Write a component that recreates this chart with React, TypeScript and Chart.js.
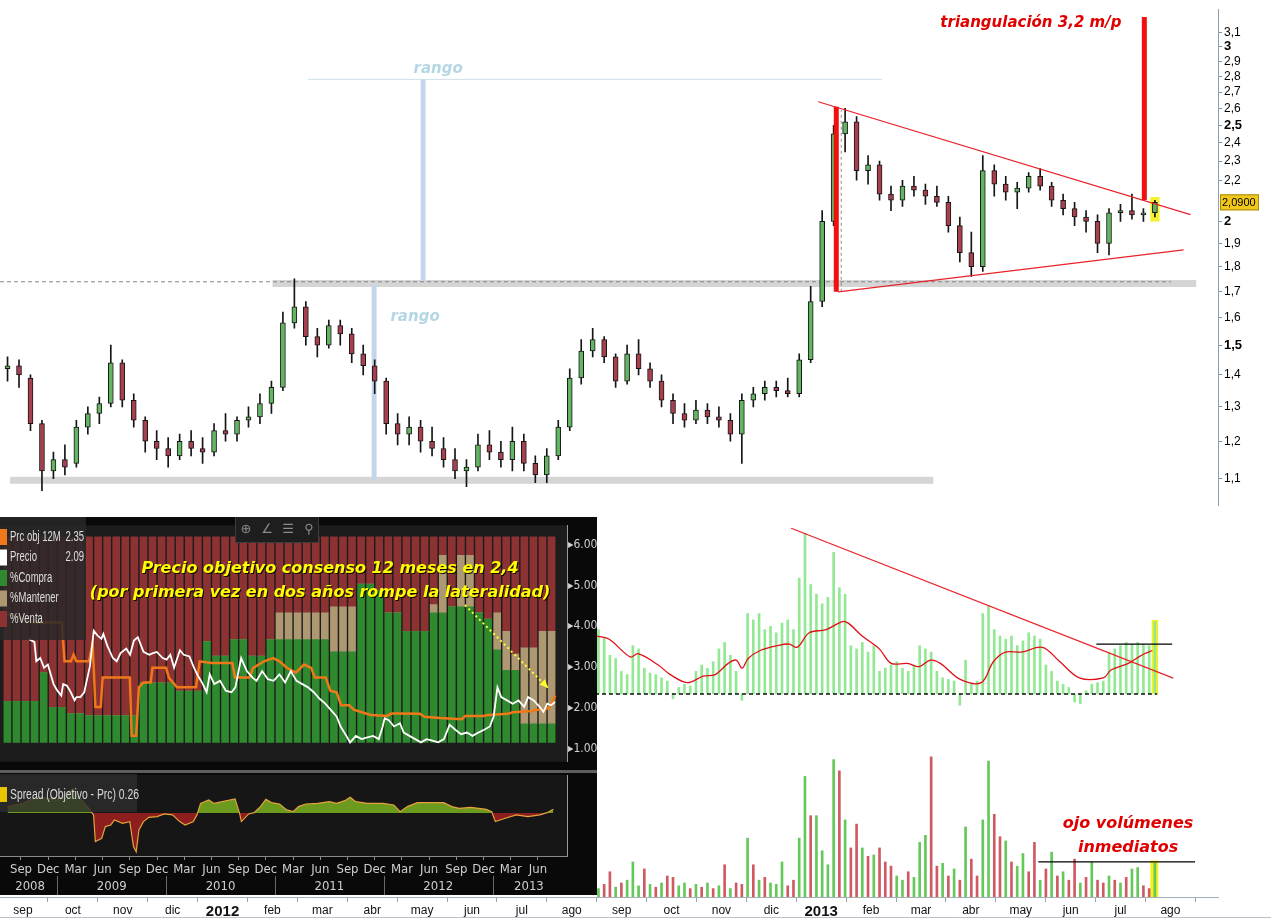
import React, { useEffect, useRef } from 'react';
import { Chart, registerables } from 'chart.js';

Chart.register(...registerables);

const F = '"Liberation Sans", Arial, sans-serif';
const NARROW = '"Liberation Sans Narrow", "DejaVu Sans Condensed", "Liberation Sans", sans-serif';
const DJ = '"DejaVu Sans", Verdana, sans-serif';
Chart.defaults.font.family = F;

/* ---------- shared time axis: weeks counted from 1 Aug 2011 ---------- */
const WEEKS_PER_MONTH = 4.348;
const MONTH_LABELS = ['sep', 'oct', 'nov', 'dic', '2012', 'feb', 'mar', 'abr', 'may', 'jun', 'jul', 'ago',
  'sep', 'oct', 'nov', 'dic', '2013', 'feb', 'mar', 'abr', 'may', 'jun', 'jul', 'ago'];
const X_MIN = 2.343;
const X_MAX = 108.5;

/* ---------- weekly candles ---------- */
const FIRST_WEEK = 3;
const P_OPEN = [
  1.42, 1.43, 1.39, 1.25, 1.12, 1.15, 1.14, 1.24, 1.28, 1.31,
  1.44, 1.32, 1.26, 1.20, 1.18, 1.16, 1.20, 1.18, 1.17, 1.23,
  1.22, 1.26, 1.27, 1.31, 1.36, 1.58, 1.64, 1.53, 1.50, 1.57,
  1.54, 1.47, 1.43, 1.38, 1.25, 1.22, 1.24, 1.20, 1.18, 1.15,
  1.12, 1.13, 1.19, 1.17, 1.15, 1.20, 1.14, 1.11, 1.16, 1.24,
  1.39, 1.48, 1.52, 1.46, 1.38, 1.47, 1.42, 1.38, 1.32, 1.28,
  1.26, 1.29, 1.27, 1.26, 1.22, 1.32, 1.34, 1.36, 1.35, 1.34,
  1.45, 1.66, 2.00, 2.45, 2.52, 2.25, 2.28, 2.13, 2.10, 2.17,
  2.15, 2.12, 2.09, 1.98, 1.86, 1.80, 2.25, 2.18, 2.14, 2.16,
  2.22, 2.17, 2.10, 2.06, 2.02, 2.00, 1.90, 2.04, 2.05, 2.03, 2.04];
const P_HIGH = [
  1.46, 1.45, 1.40, 1.26, 1.17, 1.19, 1.26, 1.30, 1.33, 1.50,
  1.45, 1.34, 1.27, 1.23, 1.21, 1.22, 1.23, 1.21, 1.25, 1.28,
  1.27, 1.30, 1.34, 1.38, 1.62, 1.75, 1.66, 1.56, 1.59, 1.59,
  1.56, 1.50, 1.45, 1.39, 1.28, 1.27, 1.26, 1.24, 1.21, 1.18,
  1.15, 1.22, 1.23, 1.20, 1.24, 1.22, 1.16, 1.18, 1.26, 1.42,
  1.52, 1.56, 1.53, 1.47, 1.50, 1.52, 1.44, 1.40, 1.34, 1.31,
  1.32, 1.31, 1.30, 1.28, 1.34, 1.36, 1.38, 1.38, 1.39, 1.47,
  1.72, 2.05, 2.50, 2.60, 2.55, 2.33, 2.30, 2.17, 2.20, 2.22,
  2.18, 2.17, 2.12, 2.02, 1.95, 2.33, 2.28, 2.22, 2.19, 2.24,
  2.26, 2.19, 2.13, 2.09, 2.05, 2.03, 2.06, 2.08, 2.13, 2.06, 2.10];
const P_LOW = [
  1.38, 1.36, 1.23, 1.07, 1.10, 1.11, 1.13, 1.22, 1.25, 1.30,
  1.30, 1.24, 1.17, 1.15, 1.13, 1.15, 1.16, 1.14, 1.16, 1.20,
  1.20, 1.24, 1.25, 1.28, 1.35, 1.56, 1.50, 1.46, 1.49, 1.50,
  1.44, 1.40, 1.34, 1.22, 1.19, 1.19, 1.17, 1.16, 1.13, 1.10,
  1.08, 1.12, 1.15, 1.13, 1.12, 1.12, 1.09, 1.09, 1.15, 1.23,
  1.37, 1.46, 1.44, 1.36, 1.37, 1.40, 1.36, 1.30, 1.25, 1.24,
  1.25, 1.25, 1.24, 1.20, 1.14, 1.30, 1.32, 1.33, 1.33, 1.33,
  1.44, 1.64, 1.98, 2.35, 2.20, 2.18, 2.10, 2.05, 2.07, 2.12,
  2.08, 2.07, 1.95, 1.82, 1.76, 1.78, 2.12, 2.10, 2.06, 2.14,
  2.15, 2.07, 2.03, 1.98, 1.95, 1.86, 1.85, 2.00, 2.01, 2.00, 2.02];
const P_CLOSE = [
  1.43, 1.40, 1.25, 1.12, 1.15, 1.13, 1.24, 1.28, 1.31, 1.44,
  1.32, 1.26, 1.20, 1.18, 1.16, 1.20, 1.18, 1.17, 1.23, 1.22,
  1.26, 1.27, 1.31, 1.36, 1.58, 1.64, 1.53, 1.50, 1.57, 1.54,
  1.47, 1.43, 1.38, 1.25, 1.22, 1.24, 1.20, 1.18, 1.15, 1.12,
  1.13, 1.19, 1.17, 1.15, 1.20, 1.14, 1.11, 1.16, 1.24, 1.39,
  1.48, 1.52, 1.46, 1.38, 1.47, 1.42, 1.38, 1.32, 1.28, 1.26,
  1.29, 1.27, 1.26, 1.22, 1.32, 1.34, 1.36, 1.35, 1.34, 1.45,
  1.66, 2.00, 2.45, 2.52, 2.25, 2.28, 2.13, 2.10, 2.17, 2.15,
  2.12, 2.09, 1.98, 1.86, 1.80, 2.25, 2.18, 2.14, 2.16, 2.22,
  2.17, 2.10, 2.06, 2.02, 2.00, 1.90, 2.04, 2.05, 2.03, 2.04, 2.09];

const PRICE_TICKS = [1.1, 1.2, 1.3, 1.4, 1.5, 1.6, 1.7, 1.8, 1.9, 2, 2.2, 2.3, 2.4, 2.5, 2.6, 2.7, 2.8, 2.9, 3, 3.1];
const PRICE_BOLD = [1.5, 2, 2.5, 3];
const LAST_PRICE = 2.09;

/* price-chart drawings, in (week, price) units */
const SUPPORT_BANDS = [{ w0: 26.1, w1: 106.6, v: 1.731 }, { w0: 3.22, w1: 83.7, v: 1.096 }];
const RES_DASH = { w0: 2.343, w1: 104.4, v: 1.738 };
const RANGE_VLINES = [{ w: 34.95, v0: 1.097, v1: 1.725 }, { w: 39.22, v0: 1.741, v1: 2.781 }];
const RANGE_HLINE = { w0: 29.2, w1: 79.2, v: 2.781 };
const RANGE_LABELS = [{ w: 40.53, v: 2.851 }, { w: 38.52, v: 1.601 }];
const TRI_UPPER = [[73.66, 2.64], [106.1, 2.031]];
const TRI_LOWER = [[75.4, 1.698], [105.5, 1.872]];
const TRI_HEIGHT = { w: 75.23, v0: 1.698, v1: 2.61 };
const TRI_TARGET = { w: 102.08, v0: 2.101, v1: 3.214 };
const TRI_DASH = { w: 75.66, v0: 1.698, v1: 2.59 };
const LAST_HL = { w0: 102.6, w1: 103.4, v0: 1.999, v1: 2.116 };
const TRI_LABEL = { w: 84.3, v: 3.17 };

/* ---------- volume oscillator (semi-weekly) ---------- */
const OSC_FIRST_WEEK = 54.5;
const OSC_STEP = 0.5;
const OSC_VALUES = [
  40, 35, 24, 22, 14, 12, 30, 28, 16, 13,
  12, 10, 8, -3, 4, 6, 5, 14, 18, 16,
  20, 28, 32, 24, 14, -4, 50, 46, 50, 40,
  42, 38, 44, 46, 40, 72, 100, 68, 62, 56,
  60, 88, 66, 62, 30, 28, 32, 26, 30, 14,
  16, 18, 20, 16, 14, 18, 30, 28, 26, 14,
  10, 9, 8, -7, 21, 6, 8, 50, 55, 40,
  36, 34, 36, 30, 33, 38, 36, 34, 18, 14,
  8, 6, 4, -5, -6, 2, 6, 7, 8, 26,
  28, 30, 32, 31, 32, 31, 30, 45];
const MA_WEEKS = [54.39, 55.44, 57.27, 57.96, 59.71, 60.76, 62.24, 63.63, 64.68, 65.81,
  66.51, 67.03, 67.55, 68.6, 70.08, 71.13, 71.83, 72.87, 74.35, 75.75,
  76.27, 77.49, 78.98, 80.02, 81.42, 82.47, 83.43, 84.3, 86.04, 87.87,
  88.92, 89.96, 91.36, 93.19, 94.58, 96.41, 98.51, 99.2, 100.69, 101.38,
  102.08, 102.78];
const MA_VALUES = [36, 34, 23, 25, 18, 12, 7, 11, 12, 19,
  21, 16, 22, 27, 30, 31, 29, 38, 40, 45,
  44, 36, 28, 19, 19, 17, 21, 19, 9, 7,
  20, 26, 26, 29, 21, 10, 10, 15, 19, 22,
  25, 27];
const OSC_TREND = [[71.3, 103], [104.6, 9.8]];
const OSC_LEVEL = { w0: 97.9, w1: 104.5, v: 31 };
const OSC_HL = { w0: 102.72, w1: 103.28, v0: 0, v1: 46 };

/* ---------- volume (semi-weekly) ---------- */
const VOL_VALUES = [
  6, 9, 18, 7, 10, 12, 25, 8, 20, 9,
  7, 10, 15, 14, 8, 10, 6, 9, 7, 10,
  6, 8, 23, 6, 10, 9, 42, 23, 12, 14,
  10, 9, 25, 8, 12, 42, 86, 58, 58, 33,
  23, 98, 90, 55, 35, 52, 35, 29, 30, 35,
  25, 22, 15, 12, 18, 14, 39, 44, 100, 22,
  24, 15, 20, 12, 50, 27, 15, 55, 97, 59,
  43, 40, 25, 22, 31, 18, 39, 12, 20, 32,
  15, 18, 12, 27, 10, 14, 25, 12, 10, 15,
  12, 10, 14, 20, 21, 8, 6, 24];
const VOL_DIR = [
  'g', 'r', 'r', 'g', 'r', 'g', 'g', 'g', 'r', 'g',
  'r', 'g', 'r', 'r', 'g', 'g', 'r', 'g', 'r', 'g',
  'r', 'g', 'r', 'g', 'r', 'r', 'g', 'r', 'g', 'r',
  'g', 'g', 'g', 'r', 'r', 'g', 'g', 'r', 'g', 'g',
  'g', 'g', 'r', 'g', 'r', 'r', 'g', 'r', 'g', 'r',
  'r', 'r', 'g', 'g', 'r', 'g', 'g', 'g', 'r', 'r',
  'g', 'r', 'g', 'r', 'g', 'r', 'r', 'g', 'g', 'r',
  'r', 'g', 'r', 'g', 'g', 'r', 'r', 'g', 'r', 'g',
  'r', 'g', 'r', 'r', 'g', 'r', 'g', 'r', 'r', 'g',
  'r', 'g', 'r', 'g', 'g', 'r', 'r', 'g'];
const VOL_LEVEL = { w0: 92.84, w1: 106.5, v: 25 };
const VOL_HL = { w0: 102.6, w1: 103.3, v0: 0, v1: 26 };
const VOL_TEXT = { w: 100.66, v1: 52, v2: 35 };

/* ---------- Bloomberg panel: months counted from Jul 2008 ---------- */
const BB_MIN = -0.315;
const BB_MAX = 62.2;
const COMPRA = [20, 20, 20, 20, 34, 17, 17, 14, 14, 13,
  13, 13, 13, 13, 13, 29, 29, 29, 29, 25,
  25, 25, 49, 42, 42, 50, 50, 42, 42, 50,
  50, 50, 50, 50, 50, 50, 44, 44, 44, 77,
  77, 74, 63, 63, 54, 54, 54, 63, 63, 66,
  66, 66, 63, 60, 45, 35, 35, 9, 9, 9,
  9];
const MANTENER = [0, 0, 0, 0, 0, 0, 0, 0, 0, 0,
  0, 0, 0, 0, 0, 0, 0, 0, 0, 0,
  0, 0, 0, 0, 0, 0, 0, 0, 0, 0,
  13, 13, 13, 13, 13, 13, 22, 22, 22, 0,
  0, 0, 0, 0, 0, 0, 0, 4, 28, 0,
  25, 25, 0, 0, 18, 19, 8, 37, 37, 45,
  45];
const TGT_M = [0.5, 3.5, 6.5, 6.8, 7.5, 7.8, 8.1, 9.5, 9.9, 10.2,
  10.8, 11.0, 14.0, 14.2, 14.7, 15.0, 15.5, 16.3, 16.5, 18.0,
  18.3, 19.2, 21.3, 21.7, 23.0, 25.3, 25.6, 27.2, 27.6, 28.8,
  29.8, 30.5, 31.3, 32.3, 33.2, 34.0, 34.4, 35.6, 36.1, 36.8,
  37.3, 38.2, 38.7, 40.0, 40.6, 42.4, 42.8, 43.5, 46.0, 46.5,
  48.2, 50.6, 51.0, 53.0, 53.5, 55.7, 56.2, 58.4, 58.7, 59.8,
  60.4, 60.9];
const TGT_V = [4.30, 4.09, 4.09, 3.14, 3.14, 3.30, 3.14, 3.14, 3.60, 2.02,
  2.02, 2.74, 2.74, 1.31, 1.31, 2.50, 2.62, 2.62, 2.98, 2.98,
  2.74, 2.50, 2.50, 3.14, 3.10, 3.10, 2.74, 2.74, 2.98, 3.14,
  3.22, 3.14, 2.98, 2.86, 3.06, 2.98, 2.74, 2.74, 2.42, 2.38,
  2.06, 2.06, 1.95, 1.86, 1.82, 1.80, 1.86, 1.86, 1.85, 1.78,
  1.75, 1.72, 1.80, 1.80, 1.82, 1.85, 1.89, 1.92, 1.95, 1.95,
  2.05, 2.30];
const PRC_M = [2.85, 3.48, 3.69, 4.12, 4.54, 4.96, 5.59, 6.01, 6.44, 6.65,
  7.07, 7.49, 7.91, 8.12, 8.55, 8.97, 9.60, 10.02, 10.44, 10.87,
  11.08, 11.50, 12.13, 12.55, 12.98, 13.61, 14.03, 14.45, 14.88, 15.51,
  16.14, 16.56, 16.98, 17.62, 18.04, 18.46, 18.88, 19.52, 19.94, 20.57,
  21.00, 21.42, 22.05, 22.47, 22.81, 23.31, 23.95, 24.58, 25.21, 25.64,
  26.27, 26.90, 27.53, 27.96, 28.59, 29.22, 29.85, 30.49, 31.12, 31.75,
  32.38, 33.02, 33.65, 34.28, 34.92, 35.55, 36.18, 36.81, 37.24, 37.87,
  38.29, 38.92, 39.56, 40.19, 40.82, 41.45, 41.88, 42.09, 42.51, 43.14,
  43.78, 44.20, 44.83, 45.46, 46.10, 46.73, 47.36, 47.99, 48.63, 49.26,
  49.89, 50.52, 51.16, 51.79, 52.42, 53.06, 53.69, 54.11, 54.53, 54.95,
  55.59, 56.22, 56.85, 57.48, 57.91, 58.54, 59.18, 59.60, 60.02, 60.44,
  60.87];
const PRC_V = [3.69, 3.61, 3.14, 3.22, 2.98, 3.06, 2.58, 2.42, 2.30, 2.58,
  2.54, 2.38, 2.18, 2.26, 2.26, 2.38, 3.02, 3.89, 3.77, 3.69,
  3.81, 3.53, 3.22, 3.14, 3.34, 3.45, 3.30, 3.65, 3.73, 3.37,
  3.30, 3.34, 3.37, 3.22, 3.18, 3.30, 2.98, 3.41, 3.30, 3.26,
  3.02, 2.82, 2.58, 2.38, 2.82, 2.58, 2.66, 2.42, 2.38, 2.50,
  3.22, 2.90, 2.74, 2.66, 2.90, 2.70, 2.66, 2.82, 2.62, 2.90,
  2.66, 2.58, 2.50, 2.38, 2.22, 2.10, 1.94, 1.78, 1.54, 1.31,
  1.15, 1.31, 1.23, 1.27, 1.31, 1.23, 1.54, 1.74, 1.70, 1.54,
  1.62, 1.39, 1.31, 1.23, 1.15, 1.23, 1.19, 1.15, 1.23, 1.58,
  1.46, 1.35, 1.39, 1.31, 1.39, 1.46, 1.54, 1.78, 2.50, 2.26,
  2.18, 2.10, 2.18, 2.02, 2.26, 2.18, 2.02, 1.90, 2.10, 2.06,
  2.14];
const SPR_M = [0.5, 2.2, 3.9, 6.0, 7.7, 9.6, 10.0, 10.2, 10.9, 11.3,
  11.9, 12.3, 13.2, 14.0, 14.4, 14.7, 15.0, 15.5, 16.1, 17.0,
  17.8, 18.7, 19.5, 20.1, 21.0, 21.4, 21.8, 22.7, 23.3, 24.2,
  25.0, 25.6, 26.1, 26.3, 27.1, 27.7, 28.4, 29.0, 29.6, 30.5,
  31.3, 32.0, 32.6, 33.4, 34.7, 36.0, 36.8, 37.7, 38.3, 38.9,
  40.2, 41.9, 43.1, 43.8, 44.6, 45.7, 47.4, 48.6, 49.5, 50.3,
  51.6, 53.3, 53.9, 54.3, 55.4, 56.6, 57.9, 59.2, 60.0, 60.7];
const SPR_V = [0.39, 0.60, 1.02, 0.81, 1.50, 0.19, -0.12, -1.79, -1.58, -0.85,
  -0.75, -0.44, -0.65, -0.54, -2.10, -2.42, -1.06, -0.54, -0.27, -0.23,
  -0.06, -0.12, -0.54, -0.75, -0.54, -0.12, 0.60, 0.81, 0.60, 0.71,
  0.81, 0.88, -0.02, -0.54, -0.06, 0.02, 0.40, 0.85, 0.65, 0.56,
  0.19, 0.08, 0.40, 0.56, 0.60, 0.71, 0.60, 0.77, 0.98, 0.71,
  0.60, 0.60, 0.50, 0.08, 0.40, 0.65, 0.65, 0.65, 0.40, 0.29,
  0.35, 0.23, 0.08, -0.54, -0.33, -0.12, -0.23, -0.12, 0.02, 0.23];
const BB_PRICE_TICKS = [1, 2, 3, 4, 5, 6];
const BB_QTR_TICKS = [2, 5, 8, 11, 14, 17, 20, 23, 26, 29, 32, 35, 38, 41, 44, 47, 50, 53, 56, 59];
const BB_QTR_LABELS = ['Sep', 'Dec', 'Mar', 'Jun'];
const BB_YEARS = ['2008', '2009', '2010', '2011', '2012', '2013'];
const BB_YEAR_CENTERS = [3, 12, 24, 36, 48, 58];
const BB_YEAR_STARTS = [6, 18, 30, 42, 54];
const BB_LEGEND = [
  { color: '#f07818', label: 'Prc obj 12M', value: '2.35' },
  { color: '#ffffff', label: 'Precio', value: '2.09' },
  { color: '#2f8a2f', label: '%Compra', value: '' },
  { color: '#ae9872', label: '%Mantener', value: '' },
  { color: '#8c3232', label: '%Venta', value: '' }];
const BB_NOTE = [
  { text: 'Precio objetivo consenso 12 meses en 2,4', m: 36.07, v: 5.40 },
  { text: '(por primera vez en dos años rompe la lateralidad)', m: 34.97, v: 4.83 }];
const BB_ARROW = [[50.95, 4.52], [60.1, 2.49]];

/* ---------- helpers ---------- */
function seg(ctx: any, x0: number, y0: number, x1: number, y1: number) {
  ctx.beginPath();
  ctx.moveTo(x0, y0);
  ctx.lineTo(x1, y1);
  ctx.stroke();
}
function narrowText(ctx: any, text: string, x: number, y: number, align: string, sx: number) {
  ctx.save();
  ctx.translate(x, y);
  ctx.scale(sx, 1);
  ctx.textAlign = align;
  ctx.fillText(text, 0, 0);
  ctx.restore();
}
const BASE_OPTS = {
  animation: false,
  responsive: false,
  events: [],
  plugins: { legend: { display: false }, tooltip: { enabled: false } },
};

/* ---------- price chart ---------- */
const pricePlugin = {
  id: 'priceAnno',
  beforeDatasetsDraw(chart: any) {
    const { ctx } = chart;
    const X = (w: number) => chart.scales.x.getPixelForValue(w);
    const Y = (v: number) => chart.scales.y.getPixelForValue(v);
    ctx.save();
    ctx.fillStyle = '#d5d5d5';
    SUPPORT_BANDS.forEach((b) => ctx.fillRect(X(b.w0), Y(b.v) - 3.5, X(b.w1) - X(b.w0), 7));
    ctx.strokeStyle = '#858585';
    ctx.lineWidth = 1;
    ctx.setLineDash([4, 3]);
    seg(ctx, X(RES_DASH.w0), Y(RES_DASH.v), X(RES_DASH.w1), Y(RES_DASH.v));
    ctx.setLineDash([]);
    ctx.strokeStyle = '#c5d6ec';
    ctx.lineWidth = 5;
    RANGE_VLINES.forEach((l) => seg(ctx, X(l.w), Y(l.v0), X(l.w), Y(l.v1)));
    ctx.strokeStyle = '#cde0ea';
    ctx.lineWidth = 1;
    seg(ctx, X(RANGE_HLINE.w0), Y(RANGE_HLINE.v), X(RANGE_HLINE.w1), Y(RANGE_HLINE.v));
    ctx.fillStyle = 'rgba(245,240,20,0.9)';
    ctx.fillRect(X(LAST_HL.w0), Y(LAST_HL.v1), X(LAST_HL.w1) - X(LAST_HL.w0), Y(LAST_HL.v0) - Y(LAST_HL.v1));
    ctx.restore();
  },
  afterDatasetsDraw(chart: any) {
    const { ctx } = chart;
    const X = (w: number) => chart.scales.x.getPixelForValue(w);
    const Y = (v: number) => chart.scales.y.getPixelForValue(v);
    ctx.save();
    ctx.strokeStyle = '#8c8c8c';
    ctx.lineWidth = 1;
    ctx.setLineDash([3, 3]);
    seg(ctx, X(TRI_DASH.w), Y(TRI_DASH.v0), X(TRI_DASH.w), Y(TRI_DASH.v1));
    ctx.setLineDash([]);
    ctx.strokeStyle = '#e8232a';
    ctx.lineWidth = 1.3;
    [TRI_UPPER, TRI_LOWER].forEach((l) => seg(ctx, X(l[0][0]), Y(l[0][1]), X(l[1][0]), Y(l[1][1])));
    ctx.strokeStyle = '#f01010';
    ctx.lineWidth = 5;
    [TRI_HEIGHT, TRI_TARGET].forEach((l) => seg(ctx, X(l.w), Y(l.v0), X(l.w), Y(l.v1)));
    ctx.font = 'bold italic 15px ' + DJ;
    ctx.fillStyle = '#b5d6e5';
    ctx.textAlign = 'center';
    ctx.textBaseline = 'middle';
    RANGE_LABELS.forEach((r) => ctx.fillText('rango', X(r.w), Y(r.v)));
    ctx.font = 'bold italic 15px ' + DJ;
    ctx.fillStyle = '#e00000';
    ctx.textAlign = 'left';
    ctx.fillText('triangulación 3,2 m/p', X(TRI_LABEL.w), Y(TRI_LABEL.v));
    ctx.restore();
  },
  afterDraw(chart: any) {
    const { ctx, chartArea } = chart;
    const y = chart.scales.y.getPixelForValue(LAST_PRICE);
    ctx.save();
    ctx.fillStyle = '#f2c81a';
    ctx.strokeStyle = '#a88a10';
    ctx.lineWidth = 1;
    ctx.fillRect(chartArea.right + 2, y - 8, 39, 16);
    ctx.strokeRect(chartArea.right + 2.5, y - 7.5, 38, 15);
    ctx.fillStyle = '#000';
    ctx.font = '11px ' + F;
    ctx.textAlign = 'left';
    ctx.textBaseline = 'middle';
    ctx.fillText(LAST_PRICE.toFixed(4).replace('.', ','), chartArea.right + 4, y + 0.5);
    ctx.restore();
  },
};

function priceConfig() {
  const xs = P_OPEN.map((_, i) => FIRST_WEEK + i);
  const up = P_CLOSE.map((c, i) => c >= P_OPEN[i]);
  return {
    type: 'bar',
    data: {
      datasets: [
        {
          data: xs.map((x, i) => ({ x, y: [P_LOW[i], P_HIGH[i]] })),
          backgroundColor: '#151515', barThickness: 1, maxBarThickness: 1, grouped: false, order: 2,
        },
        {
          data: xs.map((x, i) => ({ x, y: [P_OPEN[i], P_CLOSE[i]] })),
          backgroundColor: up.map((u) => (u ? '#63b463' : '#a6404f')),
          borderColor: '#151515', borderWidth: 1, borderSkipped: false,
          barThickness: 5, maxBarThickness: 5, grouped: false, order: 1,
        },
      ],
    },
    options: {
      ...BASE_OPTS,
      layout: { padding: { left: 0, right: 0, top: 0, bottom: 5 } },
      scales: {
        x: { type: 'linear', min: X_MIN, max: X_MAX, offset: false, bounds: 'data', display: false },
        y: {
          type: 'logarithmic', position: 'right', min: 1.033, max: 3.273, bounds: 'data',
          afterBuildTicks: (s: any) => { s.ticks = PRICE_TICKS.map((v) => ({ value: v })); },
          afterFit: (s: any) => { s.width = 53; },
          ticks: {
            autoSkip: false, color: '#000', padding: 2,
            callback: (v: any) => String(v).replace('.', ','),
            font: (c: any) => {
              const b = c.tick && PRICE_BOLD.includes(c.tick.value);
              return { family: F, size: b ? 13 : 12, weight: b ? 'bold' : 'normal' };
            },
          },
          grid: { drawOnChartArea: false, tickLength: 4, color: '#7f8f9c' },
          border: { color: '#8fa0ae' },
        },
      },
    },
    plugins: [pricePlugin],
  };
}

/* ---------- oscillator chart ---------- */
const oscPlugin = {
  id: 'oscAnno',
  beforeDatasetsDraw(chart: any) {
    const { ctx } = chart;
    const X = (w: number) => chart.scales.x.getPixelForValue(w);
    const Y = (v: number) => chart.scales.y.getPixelForValue(v);
    ctx.save();
    ctx.fillStyle = '#f5f020';
    ctx.fillRect(X(OSC_HL.w0), Y(OSC_HL.v1), X(OSC_HL.w1) - X(OSC_HL.w0), Y(OSC_HL.v0) - Y(OSC_HL.v1));
    ctx.restore();
  },
  afterDatasetsDraw(chart: any) {
    const { ctx } = chart;
    const X = (w: number) => chart.scales.x.getPixelForValue(w);
    const Y = (v: number) => chart.scales.y.getPixelForValue(v);
    ctx.save();
    ctx.strokeStyle = '#111';
    ctx.lineWidth = 1.5;
    ctx.setLineDash([4, 3]);
    seg(ctx, X(OSC_FIRST_WEEK - 0.3), Y(0), X(OSC_FIRST_WEEK + OSC_STEP * (OSC_VALUES.length - 1) + 0.2), Y(0));
    ctx.setLineDash([]);
    ctx.strokeStyle = '#e8232a';
    ctx.lineWidth = 1.3;
    seg(ctx, X(OSC_TREND[0][0]), Y(OSC_TREND[0][1]), X(OSC_TREND[1][0]), Y(OSC_TREND[1][1]));
    ctx.strokeStyle = '#000';
    ctx.lineWidth = 1.2;
    seg(ctx, X(OSC_LEVEL.w0), Y(OSC_LEVEL.v), X(OSC_LEVEL.w1), Y(OSC_LEVEL.v));
    ctx.restore();
  },
};

function oscConfig() {
  return {
    type: 'bar',
    data: {
      datasets: [
        {
          data: OSC_VALUES.map((v, i) => ({ x: OSC_FIRST_WEEK + OSC_STEP * i, y: v })),
          backgroundColor: '#93e993', barThickness: 2, maxBarThickness: 2, grouped: false, order: 2,
        },
        {
          type: 'line',
          data: MA_WEEKS.map((w, i) => ({ x: w, y: MA_VALUES[i] })),
          borderColor: '#e01018', borderWidth: 1.3, pointRadius: 0, tension: 0.35, order: 1,
        },
      ],
    },
    options: {
      ...BASE_OPTS,
      layout: { padding: { left: 0, right: 53, top: 2, bottom: 5 } },
      scales: {
        x: { type: 'linear', min: X_MIN, max: X_MAX, offset: false, bounds: 'data', display: false },
        y: { type: 'linear', min: -10, max: 110, bounds: 'data', display: false },
      },
    },
    plugins: [oscPlugin],
  };
}

/* ---------- volume chart ---------- */
const volPlugin = {
  id: 'volAnno',
  beforeDatasetsDraw(chart: any) {
    const { ctx } = chart;
    const X = (w: number) => chart.scales.x.getPixelForValue(w);
    const Y = (v: number) => chart.scales.y.getPixelForValue(v);
    ctx.save();
    ctx.fillStyle = '#f5f020';
    ctx.fillRect(X(VOL_HL.w0), Y(VOL_HL.v1), X(VOL_HL.w1) - X(VOL_HL.w0), Y(VOL_HL.v0) - Y(VOL_HL.v1));
    ctx.restore();
  },
  afterDatasetsDraw(chart: any) {
    const { ctx } = chart;
    const X = (w: number) => chart.scales.x.getPixelForValue(w);
    const Y = (v: number) => chart.scales.y.getPixelForValue(v);
    ctx.save();
    ctx.strokeStyle = '#000';
    ctx.lineWidth = 1.2;
    seg(ctx, X(VOL_LEVEL.w0), Y(VOL_LEVEL.v), X(VOL_LEVEL.w1), Y(VOL_LEVEL.v));
    ctx.font = 'bold italic 16px ' + DJ;
    ctx.fillStyle = '#e00000';
    ctx.textAlign = 'center';
    ctx.textBaseline = 'middle';
    ctx.fillText('ojo volúmenes', X(VOL_TEXT.w), Y(VOL_TEXT.v1));
    ctx.fillText('inmediatos', X(VOL_TEXT.w), Y(VOL_TEXT.v2));
    ctx.restore();
  },
  afterDraw(chart: any) {
    const { ctx } = chart;
    ctx.save();
    ctx.strokeStyle = '#b9c2ca';
    ctx.lineWidth = 1;
    seg(ctx, 0, chart.height - 1.5, chart.width, chart.height - 1.5);
    ctx.restore();
  },
};

function volConfig() {
  return {
    type: 'bar',
    data: {
      datasets: [
        {
          data: VOL_VALUES.map((v, i) => ({ x: OSC_FIRST_WEEK + OSC_STEP * i, y: v })),
          backgroundColor: VOL_DIR.map((d) => (d === 'g' ? '#64c85a' : '#cf5a63')),
          barThickness: 2, maxBarThickness: 2, grouped: false,
        },
      ],
    },
    options: {
      ...BASE_OPTS,
      layout: { padding: { left: 0, right: 53, top: 30, bottom: 0 } },
      scales: {
        x: {
          type: 'linear', min: X_MIN, max: X_MAX, offset: false, bounds: 'data', position: 'bottom',
          afterBuildTicks: (s: any) => { s.ticks = MONTH_LABELS.map((_, i) => ({ value: (i + 1) * WEEKS_PER_MONTH })); },
          afterFit: (s: any) => { s.height = 22; },
          ticks: {
            autoSkip: false, maxRotation: 0, color: '#111', padding: 1,
            callback: (_v: any, i: number) => MONTH_LABELS[i],
            font: (c: any) => {
              const l = MONTH_LABELS[c.index] || '';
              const yr = l.startsWith('20');
              return { family: F, size: yr ? 15 : 12, weight: yr ? 'bold' : 'normal' };
            },
          },
          grid: { drawOnChartArea: false, tickLength: 5, color: '#98a3ad' },
          border: { color: '#a5afb8' },
        },
        y: { type: 'linear', min: 0, max: 112, bounds: 'data', display: false },
      },
    },
    plugins: [volPlugin],
  };
}

/* ---------- Bloomberg upper panel ---------- */
const bbTopPlugin = {
  id: 'bbTop',
  beforeDraw(chart: any) {
    const { ctx, chartArea: a } = chart;
    ctx.save();
    ctx.fillStyle = '#090909';
    ctx.fillRect(0, 0, chart.width, chart.height);
    ctx.fillStyle = '#1c1c1c';
    ctx.fillRect(a.left, a.top, a.right - a.left, a.bottom - a.top);
    ctx.restore();
  },
  afterDraw(chart: any) {
    const { ctx } = chart;
    const X = (m: number) => chart.scales.x.getPixelForValue(m);
    const Y = (v: number) => chart.scales.y.getPixelForValue(v);
    ctx.save();
    // toolbar
    ctx.fillStyle = '#1e1e1e';
    ctx.fillRect(235, 0, 84, 26);
    ctx.strokeStyle = '#3c3c3c';
    ctx.lineWidth = 1;
    ctx.strokeRect(235.5, -0.5, 83, 26);
    ctx.fillStyle = '#8c8c8c';
    ctx.font = '13px ' + DJ;
    ctx.textAlign = 'center';
    ctx.textBaseline = 'middle';
    ['⊕', '∠', '☰', '⚲'].forEach((g, i) => ctx.fillText(g, 246 + i * 21, 13));
    // legend
    ctx.fillStyle = 'rgba(40,40,40,0.85)';
    ctx.fillRect(0, 0, 86, 123);
    BB_LEGEND.forEach((it, i) => {
      const cy = 20 + i * 20.5;
      ctx.fillStyle = it.color;
      ctx.fillRect(0, cy - 8, 7, 16);
      ctx.fillStyle = '#dedede';
      ctx.font = '14px ' + F;
      narrowText(ctx, it.label, 10, cy, 'left', 0.68);
      if (it.value) narrowText(ctx, it.value, 84, cy, 'right', 0.68);
    });
    // note
    ctx.font = 'bold italic 16px ' + DJ;
    ctx.textAlign = 'center';
    ctx.shadowColor = 'rgba(0,0,0,0.9)';
    ctx.shadowOffsetX = 1;
    ctx.shadowOffsetY = 1;
    ctx.fillStyle = '#ffff00';
    BB_NOTE.forEach((n) => ctx.fillText(n.text, X(n.m), Y(n.v)));
    ctx.shadowColor = 'transparent';
    // arrow
    const x0 = X(BB_ARROW[0][0]), y0 = Y(BB_ARROW[0][1]);
    const x1 = X(BB_ARROW[1][0]), y1 = Y(BB_ARROW[1][1]);
    ctx.strokeStyle = '#ffff30';
    ctx.lineWidth = 2;
    ctx.setLineDash([2, 3]);
    seg(ctx, x0, y0, x1, y1);
    ctx.setLineDash([]);
    const ang = Math.atan2(y1 - y0, x1 - x0);
    ctx.fillStyle = '#ffff30';
    ctx.beginPath();
    ctx.moveTo(x1, y1);
    ctx.lineTo(x1 - 9 * Math.cos(ang - 0.45), y1 - 9 * Math.sin(ang - 0.45));
    ctx.lineTo(x1 - 9 * Math.cos(ang + 0.45), y1 - 9 * Math.sin(ang + 0.45));
    ctx.closePath();
    ctx.fill();
    ctx.restore();
  },
};

function bbTopConfig() {
  const xs = COMPRA.map((_, k) => k + 0.5);
  const bar = (vals: number[], color: string) => ({
    data: xs.map((x, k) => ({ x, y: vals[k] })),
    backgroundColor: color, barThickness: 7, maxBarThickness: 7, grouped: false,
    yAxisID: 'yPct', order: 3,
  });
  const venta = COMPRA.map((c, k) => 100 - c - MANTENER[k]);
  return {
    type: 'bar',
    data: {
      datasets: [
        bar(COMPRA, '#2f8a2f'),
        bar(MANTENER, '#ae9872'),
        bar(venta, '#8c3232'),
        {
          type: 'line', data: TGT_M.map((m, i) => ({ x: m, y: TGT_V[i] })), yAxisID: 'y',
          borderColor: '#f07818', borderWidth: 2.5, pointRadius: 0, tension: 0, order: 1,
        },
        {
          type: 'line', data: PRC_M.map((m, i) => ({ x: m, y: PRC_V[i] })), yAxisID: 'y',
          borderColor: '#ffffff', borderWidth: 1.8, pointRadius: 0, tension: 0, order: 0,
        },
      ],
    },
    options: {
      ...BASE_OPTS,
      layout: { padding: { left: 0, right: 0, top: 8, bottom: 2 } },
      scales: {
        x: { type: 'linear', min: BB_MIN, max: BB_MAX, offset: false, bounds: 'data', display: false },
        y: {
          type: 'linear', position: 'right', min: 0.673, max: 6.48, bounds: 'data',
          afterBuildTicks: (s: any) => { s.ticks = BB_PRICE_TICKS.map((v) => ({ value: v })); },
          afterFit: (s: any) => { s.width = 30; },
          ticks: {
            color: '#d0d0d0', padding: 1, font: { family: NARROW, size: 12 },
            callback: (v: any) => '▸' + Number(v).toFixed(2),
          },
          grid: { drawOnChartArea: false, drawTicks: false },
          border: { color: '#9a9a9a' },
        },
        yPct: { type: 'linear', min: -9.48, max: 105.7, bounds: 'data', stacked: true, display: false },
      },
    },
    plugins: [bbTopPlugin],
  };
}

/* ---------- Bloomberg spread panel ---------- */
const bbSpreadPlugin = {
  id: 'bbSpread',
  beforeDraw(chart: any) {
    const { ctx, chartArea: a } = chart;
    ctx.save();
    ctx.fillStyle = '#090909';
    ctx.fillRect(0, 0, chart.width, chart.height);
    ctx.fillStyle = '#161616';
    ctx.fillRect(a.left, a.top, a.right - a.left, a.bottom - a.top);
    ctx.fillStyle = '#5e5e5e';
    ctx.fillRect(0, 0, chart.width, 3);
    ctx.restore();
  },
  afterDraw(chart: any) {
    const { ctx } = chart;
    const X = (m: number) => chart.scales.x.getPixelForValue(m);
    ctx.save();
    ctx.fillStyle = 'rgba(44,44,44,0.82)';
    ctx.fillRect(0, 4, 137, 38);
    ctx.fillStyle = '#e8c400';
    ctx.fillRect(0, 17, 7, 15);
    ctx.fillStyle = '#d8d8d8';
    ctx.font = '14px ' + F;
    ctx.textBaseline = 'middle';
    narrowText(ctx, 'Spread (Objetivo - Prc) 0.26', 10, 25, 'left', 0.74);
    ctx.strokeStyle = '#6a6a6a';
    ctx.lineWidth = 1;
    BB_YEAR_STARTS.forEach((m) => seg(ctx, Math.round(X(m)) + 0.5, 106, Math.round(X(m)) + 0.5, 125));
    ctx.fillStyle = '#cfcfcf';
    ctx.font = '13px ' + NARROW;
    ctx.textAlign = 'center';
    BB_YEARS.forEach((y, i) => ctx.fillText(y, X(BB_YEAR_CENTERS[i]), 117));
    ctx.restore();
  },
};

function bbSpreadConfig() {
  return {
    type: 'line',
    data: {
      datasets: [
        {
          data: SPR_M.map((m, i) => ({ x: m, y: SPR_V[i] })),
          borderColor: '#e6a23c', borderWidth: 1.2, pointRadius: 0, tension: 0,
          fill: { target: 'origin', above: '#6c9a1e', below: '#8c1e1e' },
        },
      ],
    },
    options: {
      ...BASE_OPTS,
      layout: { padding: { left: 0, right: 0, top: 5, bottom: 0 } },
      scales: {
        x: {
          type: 'linear', min: BB_MIN, max: BB_MAX, offset: false, bounds: 'data', position: 'bottom',
          afterBuildTicks: (s: any) => { s.ticks = BB_QTR_TICKS.map((v) => ({ value: v })); },
          afterFit: (s: any) => { s.height = 39; },
          ticks: {
            autoSkip: false, maxRotation: 0, color: '#cfcfcf', padding: 2,
            font: { family: NARROW, size: 13 },
            callback: (_v: any, i: number) => BB_QTR_LABELS[i % 4],
          },
          grid: { drawOnChartArea: false, tickLength: 4, color: '#8a8a8a' },
          border: { color: '#8a8a8a' },
        },
        y: {
          type: 'linear', position: 'right', min: -2.69, max: 2.375, bounds: 'data',
          afterFit: (s: any) => { s.width = 30; },
          ticks: { display: false },
          grid: { drawOnChartArea: false, drawTicks: false },
          border: { color: '#9a9a9a' },
        },
      },
    },
    plugins: [bbSpreadPlugin],
  };
}

function useChart(factory: () => any) {
  const ref = useRef<HTMLCanvasElement | null>(null);
  useEffect(() => {
    if (!ref.current) return undefined;
    const chart = new Chart(ref.current, factory());
    return () => chart.destroy();
  }, []);
  return ref;
}

export default function App() {
  const priceRef = useChart(priceConfig);
  const oscRef = useChart(oscConfig);
  const volRef = useChart(volConfig);
  const bbTopRef = useChart(bbTopConfig);
  const bbSpreadRef = useChart(bbSpreadConfig);
  useEffect(() => {
    document.body.style.margin = '0';
    document.body.style.overflow = 'hidden';
  }, []);
  const abs = (left: number, top: number, w: number, h: number): any => ({
    position: 'absolute', left, top, width: w, height: h, display: 'block',
  });
  return (
    <div style={{ position: 'absolute', left: 0, top: 0, width: 1271, height: 919, background: '#fff', overflow: 'hidden' }}>
      <canvas ref={priceRef} width={1271} height={515} style={abs(0, 0, 1271, 515)} />
      <canvas ref={oscRef} width={1271} height={200} style={abs(0, 515, 1271, 200)} />
      <canvas ref={volRef} width={1271} height={209} style={abs(0, 710, 1271, 209)} />
      <canvas ref={bbTopRef} width={597} height={253} style={abs(0, 517, 597, 253)} />
      <canvas ref={bbSpreadRef} width={597} height={125} style={abs(0, 770, 597, 125)} />
    </div>
  );
}
